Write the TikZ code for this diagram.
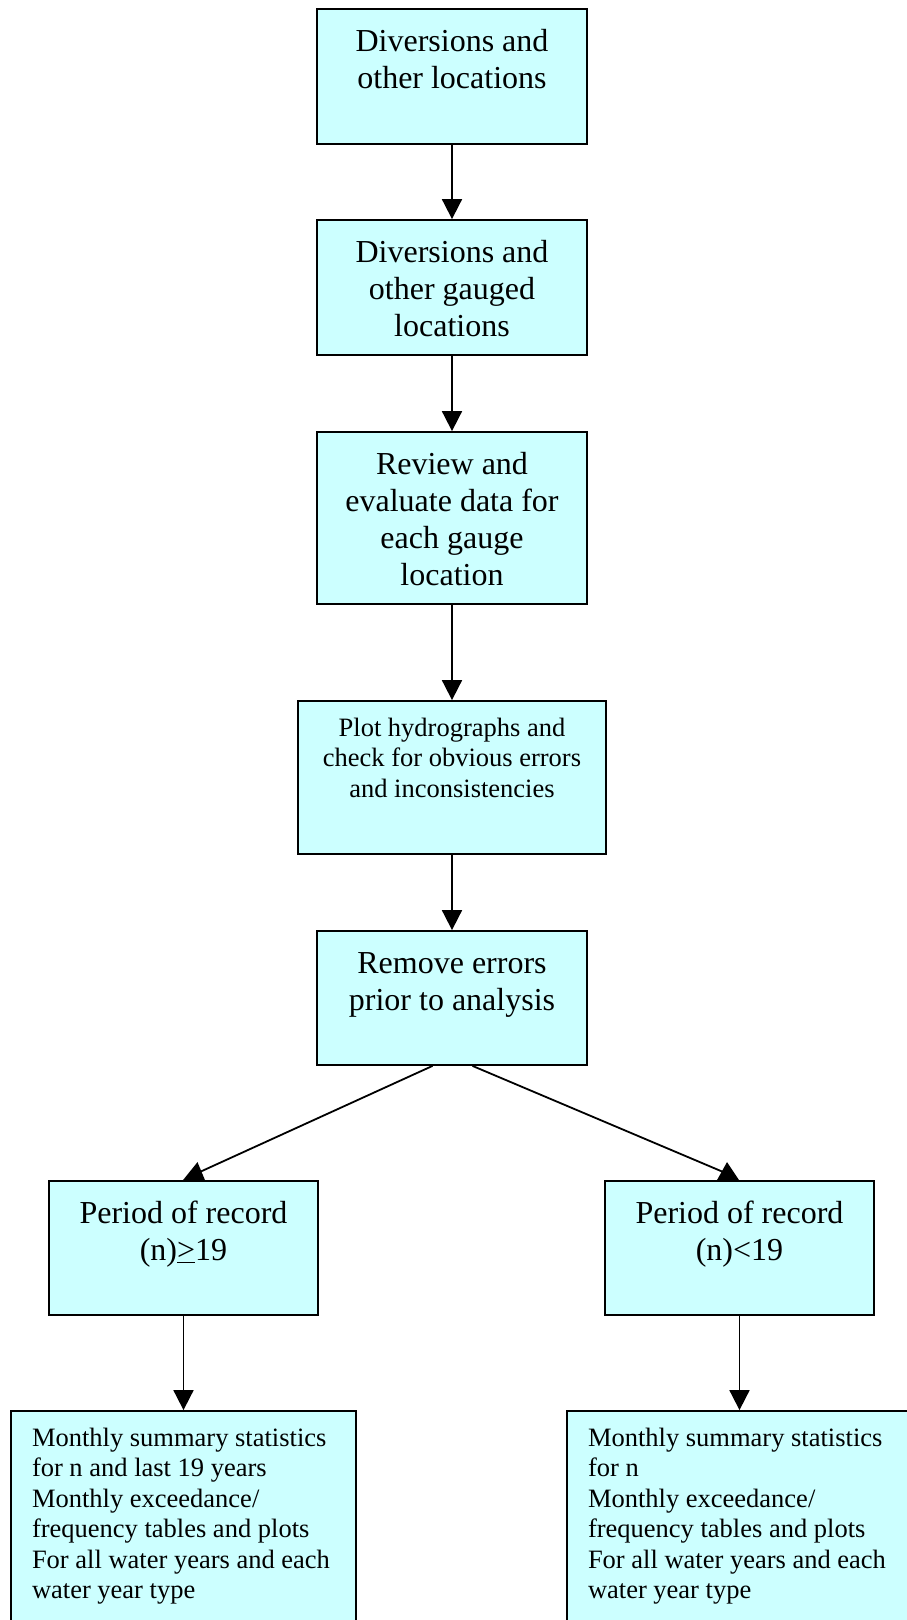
\documentclass[tikz,border=0pt]{standalone}
\usepackage{fontspec}
\setmainfont{Liberation Serif}
\usetikzlibrary{arrows.meta,calc}
\definecolor{boxcyan}{RGB}{204,255,255}

% text inside the boxes: height, width, lines
\newcommand{\bigtext}[3]{\parbox[c][#1][t]{#2}{\fontsize{32}{37}\selectfont\vspace*{17pt}\centering\strut #3\par}}
\newcommand{\smalltext}[3]{\parbox[c][#1][t]{#2}{\fontsize{26.5}{30.5}\selectfont\vspace*{14pt}\centering\strut #3\par}}
\newcommand{\listtext}[3]{\parbox[c][#1][t]{#2}{\fontsize{26.5}{30.5}\selectfont\vspace*{14pt}\raggedright\leftskip=21pt\strut #3\par}}

\begin{document}
\begin{tikzpicture}
        [x=1pt, y=-1pt,
        block/.style={draw, fill=boxcyan, line width=1.8pt, inner sep=0pt},
        flow/.style={line width=1.8pt, -{Triangle[width=20pt,length=20pt]}},
        branch/.style={line width=1.8pt},
        tipup/.style={fill=black}]

        \useasboundingbox (0,0) rectangle (906,1620);

        % main column
        \node[block] (d1) at (452,76.5) {\bigtext{135pt}{270pt}{Diversions and\\other locations}};
        \node[block] (d2) at (452,287.5) {\bigtext{135pt}{270pt}{Diversions and\\other gauged\\locations}};
        \node[block] (d3) at (452,518) {\bigtext{172pt}{270pt}{Review and\\evaluate data for\\each gauge\\location}};
        \node[block] (d4) at (452,777.5) {\smalltext{153pt}{308pt}{Plot hydrographs and\\check for obvious errors\\and inconsistencies}};
        \node[block] (d5) at (452,998) {\bigtext{134pt}{270pt}{Remove errors\\prior to analysis}};

        % two branches
        \node[block] (long) at (183.5,1248) {\bigtext{134pt}{269pt}{Period of record\\(n)\underline{>}19}};
        \node[block] (short) at (739.5,1248) {\bigtext{134pt}{269pt}{Period of record\\(n)<19}};
        \node[block] (longstats) at (183.5,1518.5) {\listtext{215pt}{345pt}{Monthly summary statistics\\for n and last 19 years\\Monthly exceedance/\\frequency tables and plots\\For all water years and each\\water year type}};
        \node[block] (shortstats) at (739.5,1518.5) {\listtext{215pt}{345pt}{Monthly summary statistics\\for n\\Monthly exceedance/\\frequency tables and plots\\For all water years and each\\water year type}};

        % connectors
        \draw[flow] (d1) -- (d2);
        \draw[flow] (d2) -- (d3);
        \draw[flow] (d3) -- (d4);
        \draw[flow] (d4) -- (d5);
        \draw[flow] (long.south) -- (long.south |- longstats.north);
        \draw[flow] (short.south) -- (short.south |- shortstats.north);

        % split lines with upright heads
        \draw[branch] ($(d5.south)+(-19.5,0)$) -- ($(long.north)+(16,-8)$);
        \fill[tipup] ($(long.north)+(-0.5,0)$) -- ($(long.north)+(21.5,0)$) -- ($(long.north)+(14,-18)$) -- cycle;
        \draw[branch] ($(d5.south)+(20.5,0)$) -- ($(short.north)+(-16,-8)$);
        \fill[tipup] ($(short.north)+(-22.5,0)$) -- ($(short.north)+(-0.5,0)$) -- ($(short.north)+(-12.5,-18)$) -- cycle;

    \end{tikzpicture}
\end{document}
